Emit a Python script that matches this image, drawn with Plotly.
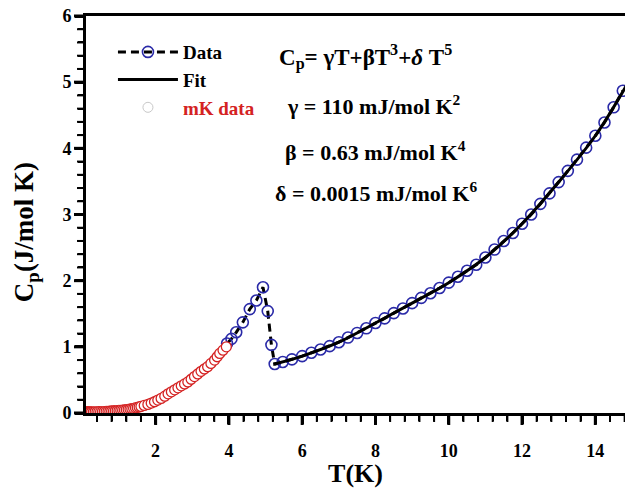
import plotly.graph_objects as go

# ---- data ----
data_T = [3.95, 4.07, 4.20, 4.38, 4.57, 4.75, 4.93, 5.06, 5.16, 5.25,
          5.47, 5.72, 6.00, 6.25, 6.50, 6.75, 7.00, 7.25, 7.50, 7.75,
          8.00, 8.25, 8.50, 8.75, 9.00, 9.25, 9.50, 9.75, 10.00, 10.25,
          10.50, 10.75, 11.00, 11.25, 11.50, 11.75, 12.00, 12.25, 12.50, 12.75,
          13.00, 13.25, 13.50, 13.75, 14.00, 14.25, 14.50, 14.75]
data_C = [1.05, 1.12, 1.22, 1.37, 1.57, 1.70, 1.90, 1.54, 1.03, 0.74,
          0.77, 0.81, 0.86, 0.91, 0.96, 1.01, 1.07, 1.14, 1.21, 1.28,
          1.36, 1.43, 1.51, 1.58, 1.66, 1.74, 1.81, 1.89, 1.97, 2.06,
          2.15, 2.24, 2.35, 2.47, 2.60, 2.72, 2.86, 3.00, 3.16, 3.32,
          3.49, 3.66, 3.83, 4.01, 4.19, 4.39, 4.62, 4.87]

fit_T = [5.25, 6.0, 7.0, 8.0, 9.0, 10.0, 11.0, 12.0, 13.0, 14.0, 14.85]
fit_C = [0.74, 0.86, 1.07, 1.36, 1.66, 1.97, 2.35, 2.86, 3.49, 4.19, 4.95]

mk_T = [0.09, 0.12, 0.15, 0.18, 0.21, 0.25, 0.30, 0.35, 0.40, 0.45,
        0.50, 0.55, 0.60, 0.65, 0.70, 0.75, 0.80, 0.85, 0.90, 0.95,
        1.00, 1.05, 1.10, 1.15, 1.20, 1.25, 1.30, 1.35, 1.40, 1.45,
        1.50, 1.55, 1.60, 1.69, 1.79, 1.88, 1.97, 2.06, 2.15, 2.25,
        2.34, 2.43, 2.52, 2.61, 2.70, 2.79, 2.88, 2.97, 3.06, 3.15,
        3.24, 3.33, 3.42, 3.51, 3.61, 3.68, 3.75, 3.84, 3.93]
mk_C = [0.015, 0.015, 0.015, 0.015, 0.015, 0.015, 0.015, 0.018, 0.018, 0.02,
        0.02, 0.022, 0.022, 0.024, 0.025, 0.027, 0.03, 0.032, 0.034, 0.036,
        0.038, 0.04, 0.043, 0.047, 0.05, 0.055, 0.06, 0.065, 0.07, 0.078,
        0.085, 0.092, 0.10, 0.115, 0.13, 0.15, 0.17, 0.195, 0.22, 0.255,
        0.29, 0.32, 0.35, 0.38, 0.41, 0.44, 0.47, 0.51, 0.55, 0.59,
        0.63, 0.665, 0.70, 0.75, 0.80, 0.85, 0.90, 0.95, 1.00]

x_major = [2, 4, 6, 8, 10, 12, 14]
y_major = [0, 1, 2, 3, 4, 5, 6]
X_RANGE = [0.1, 14.81]
Y_RANGE = [0, 6]
X_MINOR_STEP = 0.4
Y_MINOR_STEP = 0.2

BLUE = "#2a2aa8"
RED = "#d42222"
FONT = "Liberation Serif"

fig = go.Figure()

fig.add_trace(go.Scatter(
    x=data_T, y=data_C, mode="lines+markers", name="Data",
    line=dict(color="black", width=3, dash="8px,5px"),
    marker=dict(symbol="circle-open", size=11, color=BLUE, line=dict(width=1.6)),
    legendgroup="a"))

fig.add_trace(go.Scatter(
    x=fit_T, y=fit_C, mode="lines", name="Fit",
    line=dict(color="black", width=3, shape="spline"),
    legendgroup="b"))

fig.add_trace(go.Scatter(
    x=mk_T, y=mk_C, mode="markers", showlegend=False,
    marker=dict(symbol="circle", size=10, color="white",
                line=dict(width=1.3, color=RED))))

fig.add_trace(go.Scatter(
    x=[None], y=[None], mode="markers",
    name="<span style='color:#d42222'>mK data</span>",
    marker=dict(symbol="circle", size=10, color="white",
                line=dict(width=1, color="#c8c8c8")),
    legendgroup="c"))

axis_font = dict(family=FONT, size=18, color="black", weight="bold")

fig.update_layout(
    width=625, height=488,
    margin=dict(l=86, r=0, t=16, b=75),
    paper_bgcolor="white", plot_bgcolor="white",
    font=dict(family=FONT, size=18, color="black", weight="bold"),
    showlegend=True,
    legend=dict(x=0.05, y=0.957, xanchor="left", yanchor="top",
                bgcolor="rgba(0,0,0,0)", tracegroupgap=0,
                font=dict(family=FONT, size=19, color="black", weight="bold"),
                itemwidth=60),
    xaxis=dict(range=X_RANGE, tickvals=x_major,
               ticktext=[str(v) for v in x_major],
               showline=True, linecolor="black", linewidth=3, mirror=True,
               ticks="outside", ticklen=8, tickwidth=3, tickcolor="black",
               minor=dict(dtick=X_MINOR_STEP, tick0=0, ticks="outside",
                          ticklen=5, tickwidth=2, tickcolor="black"),
               showgrid=False, zeroline=False, tickfont=axis_font,
               ticklabelstandoff=11,
               title=dict(text="T(K)", font=dict(family=FONT, size=26, weight="bold"),
                          standoff=4)),
    yaxis=dict(range=Y_RANGE, tickvals=y_major,
               ticktext=[str(v) for v in y_major],
               showline=True, linecolor="black", linewidth=3, mirror=False,
               ticks="outside", ticklen=8, tickwidth=3, tickcolor="black",
               minor=dict(dtick=Y_MINOR_STEP, tick0=0, ticks="outside",
                          ticklen=5, tickwidth=2, tickcolor="black"),
               showgrid=False, zeroline=False, tickfont=axis_font),
)

# ---- tick marks also drawn as pixel-sized shapes anchored on the axes ----
def x_tick(v, length, width):
    fig.add_shape(type="line", xref="x", yref="paper", x0=v, x1=v,
                  ysizemode="pixel", yanchor=0, y0=0, y1=-length,
                  line=dict(color="black", width=width), layer="above")

def y_tick(v, length, width):
    frac = (v - Y_RANGE[0]) / (Y_RANGE[1] - Y_RANGE[0])
    fig.add_shape(type="line", xref="paper", yref="paper", y0=frac, y1=frac,
                  xsizemode="pixel", xanchor=0, x0=0, x1=-length,
                  line=dict(color="black", width=width), layer="above")

for v in x_major:
    x_tick(v, 12, 3)
n = 1
while n * X_MINOR_STEP <= X_RANGE[1]:
    v = round(n * X_MINOR_STEP, 3)
    if abs(v / 2 - round(v / 2)) > 1e-6:
        x_tick(v, 9, 2)
    n += 1

for v in y_major:
    y_tick(v, 12, 3)
n = 1
while n * Y_MINOR_STEP < Y_RANGE[1]:
    v = round(n * Y_MINOR_STEP, 3)
    if abs(v - round(v)) > 1e-6:
        y_tick(v, 9, 2)
    n += 1

fig.add_annotation(xref="paper", yref="paper", x=-0.111, y=0.456,
                   xanchor="center", yanchor="middle", showarrow=False,
                   textangle=-90, text="C<sub>p</sub>(J/mol K)",
                   font=dict(family=FONT, size=27, color="black", weight="bold"))

ann_font = dict(family=FONT, size=22, color="black", weight="bold")
fig.add_annotation(xref="paper", yref="paper", x=0.355, y=0.897,
                   xanchor="left", yanchor="middle", showarrow=False,
                   text="C<sub>p</sub>= γT+βT<sup>3</sup>+<i>δ</i> T<sup>5</sup>",
                   font=dict(family=FONT, size=23, color="black", weight="bold"))
fig.add_annotation(xref="paper", yref="paper", x=0.370, y=0.776,
                   xanchor="left", yanchor="middle", showarrow=False,
                   text="γ = 110 mJ/mol K<sup>2</sup>", font=ann_font)
fig.add_annotation(xref="paper", yref="paper", x=0.366, y=0.660,
                   xanchor="left", yanchor="middle", showarrow=False,
                   text="β = 0.63 mJ/mol K<sup>4</sup>", font=ann_font)
fig.add_annotation(xref="paper", yref="paper", x=0.347, y=0.557,
                   xanchor="left", yanchor="middle", showarrow=False,
                   text="δ = 0.0015 mJ/mol K<sup>6</sup>", font=ann_font)

fig.write_html("out.html")
